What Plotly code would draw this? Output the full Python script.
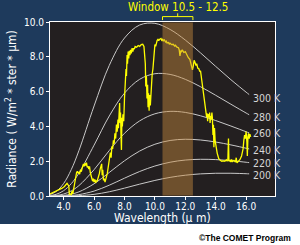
import plotly.graph_objects as go

# ---------------- data ----------------
planck_wl = [3, 3.5, 4, 4.5, 5, 6, 7, 8, 9, 10, 11, 12, 13, 14, 15, 16, 16.2]
temps = ["300 K", "280 K", "260 K", "240 K", "220 K", "200 K"]
planck_300 = [0.056, 0.254, 0.722, 1.518, 2.602, 5.176, 7.508, 9.078, 9.828, 9.923, 9.572, 8.962, 8.225, 7.447, 6.684, 5.968, 5.831]
planck_280 = [0.018, 0.095, 0.307, 0.709, 1.312, 2.924, 4.598, 5.911, 6.708, 7.028, 6.987, 6.705, 6.280, 5.787, 5.274, 4.769, 4.671]
planck_260 = [0.005, 0.031, 0.114, 0.295, 0.595, 1.513, 2.614, 3.604, 4.318, 4.724, 4.864, 4.804, 4.610, 4.336, 4.021, 3.692, 3.626]
planck_240 = [0.001, 0.008, 0.036, 0.106, 0.237, 0.701, 1.353, 2.024, 2.585, 2.975, 3.191, 3.261, 3.219, 3.102, 2.937, 2.745, 2.704]
planck_220 = [0.000, 0.002, 0.009, 0.032, 0.080, 0.283, 0.621, 1.024, 1.410, 1.723, 1.941, 2.066, 2.110, 2.092, 2.030, 1.939, 1.918]
planck_200 = [0.000, 0.000, 0.002, 0.007, 0.022, 0.095, 0.244, 0.452, 0.682, 0.895, 1.070, 1.195, 1.272, 1.307, 1.307, 1.281, 1.273]
label_x = 16.35
label_y = [5.62, 4.55, 3.62, 2.62, 1.87, 1.23]

spec_wl = [3.1, 3.3, 3.5, 3.7, 3.9, 4.05, 4.15, 4.22, 4.3, 4.34, 4.37, 4.42, 4.5, 4.55, 4.6, 4.65,
           4.7, 4.75, 4.8, 4.85, 4.9, 4.95, 5.0, 5.05, 5.1, 5.16, 5.2, 5.25, 5.3, 5.35, 5.4, 5.45,
           5.5, 5.55, 5.6, 5.65, 5.7, 5.75, 5.8, 5.85, 5.9, 5.95, 6.0, 6.05, 6.1, 6.15, 6.2, 6.25,
           6.3, 6.35, 6.4, 6.45, 6.5, 6.53, 6.57, 6.62, 6.67, 6.72, 6.77, 6.82, 6.87, 6.92, 6.97,
           7.02, 7.07, 7.12, 7.17, 7.22, 7.27, 7.32, 7.37, 7.42, 7.47, 7.52, 7.57, 7.6, 7.64, 7.68,
           7.71, 7.74, 7.77, 7.8, 7.83, 7.86, 7.9, 7.95, 8.0, 8.05, 8.1, 8.13, 8.17, 8.2, 8.24, 8.28,
           8.32, 8.36, 8.4, 8.45, 8.5, 8.55, 8.6, 8.65, 8.7, 8.8, 8.9, 9.0, 9.1, 9.2, 9.28, 9.33,
           9.37, 9.4, 9.44, 9.48, 9.52, 9.55, 9.58, 9.62, 9.65, 9.7, 9.74, 9.78, 9.82, 9.87, 9.92,
           9.96, 10.0, 10.05, 10.1, 10.15, 10.2, 10.25, 10.3, 10.4, 10.45, 10.5, 10.55, 10.6, 10.7,
           10.75, 10.8, 10.9, 10.95, 11.0, 11.1, 11.2, 11.3, 11.35, 11.45, 11.55, 11.6, 11.65, 11.7,
           11.75, 11.8, 11.9, 12.0, 12.05, 12.1, 12.2, 12.3, 12.4, 12.47, 12.52, 12.58, 12.63, 12.7,
           12.75, 12.82, 12.9, 12.95, 13.0, 13.05, 13.1, 13.15, 13.2, 13.25, 13.3, 13.35, 13.4,
           13.43, 13.47, 13.5, 13.55, 13.6, 13.63, 13.67, 13.7, 13.75, 13.78, 13.82, 13.85, 13.88,
           13.92, 13.96, 14.0, 14.05, 14.1, 14.15, 14.2, 14.3, 14.4, 14.5, 14.6, 14.7, 14.75, 14.8,
           14.84, 14.87, 14.95, 15.0, 15.05, 15.1, 15.2, 15.3, 15.35, 15.4, 15.5, 15.6, 15.7, 15.75,
           15.8, 15.85, 15.9, 15.95, 16.0, 16.05, 16.08, 16.12, 16.16, 16.2, 16.25, 16.3]
spec_val = [0.12, 0.2, 0.3, 0.38, 0.45, 0.55, 0.65, 0.73, 0.62, 0.58, 0.1, 0.12, 0.08, 0.3, 0.12, 0.35,
            0.65, 1.0, 1.25, 1.35, 1.42, 1.3, 1.38, 1.25, 1.5, 1.4, 1.55, 1.78, 1.85, 1.7, 1.88, 1.75,
            1.92, 1.65, 1.72, 1.55, 1.7, 1.35, 1.2, 1.05, 0.85, 1.0, 0.8, 0.95, 0.75, 0.9, 0.85, 1.0,
            1.1, 1.3, 1.55, 1.75, 1.85, 1.2, 1.5, 0.9, 1.0, 0.8, 0.95, 1.0, 1.3, 1.6, 1.9,
            2.3, 2.5, 2.2, 2.85, 2.7, 3.2, 3.0, 3.6, 3.3, 4.1, 3.7, 4.4, 3.9, 4.6, 5.35,
            4.2, 4.8, 3.5, 2.65, 4.5, 4.0, 4.7, 4.3, 5.6, 6.6, 7.3, 6.9, 8.1, 7.6, 8.3, 7.9,
            8.35, 8.1, 8.4, 8.2, 8.5, 8.3, 8.5, 8.45, 8.6, 8.55, 8.65, 8.6, 8.7, 8.72, 8.6, 8.2,
            7.6, 6.3, 6.9, 5.6, 6.4, 5.1, 5.9, 4.9, 5.8, 5.2, 6.2, 6.3, 7.0, 7.3, 7.9,
            8.4, 8.7, 8.6, 8.9, 8.95, 9.0, 8.92, 9.0, 9.05, 8.95, 9.0, 8.9, 9.0, 8.85,
            8.9, 8.8, 8.82, 8.72, 8.78, 8.7, 8.72, 8.62, 8.66, 8.55, 8.52, 8.4, 8.05, 8.35,
            8.3, 8.4, 8.25, 8.3, 8.2, 8.15, 7.95, 7.85, 7.55, 7.25, 7.45, 7.8, 7.7, 7.5,
            7.6, 7.35, 7.3, 7.15, 7.2, 6.9, 6.55, 6.3, 6.0, 5.55, 5.2, 4.85, 4.55,
            4.75, 4.3, 4.7, 4.5, 4.8, 4.2, 4.6, 4.4, 4.8, 4.5, 3.5, 4.1, 2.8,
            3.9, 3.2, 2.9, 2.65, 2.45, 2.3, 2.15, 2.05, 2.0, 2.02, 2.0, 2.08, 2.0, 2.1,
            3.3, 2.0, 2.05, 1.95, 2.1, 1.98, 2.05, 1.95, 2.2, 1.9, 2.0, 2.1, 2.3, 2.5,
            2.7, 3.2, 3.5, 3.3, 3.7, 3.1, 2.3, 3.4, 3.6, 3.3, 3.55, 3.4]

window_lo, window_hi = 10.5, 12.5
x_ticks = [4, 6, 8, 10, 12, 14, 16]
y_ticks = [0, 2, 4, 6, 8, 10]

# ---------------- figure ----------------
BLUE = "#1e3a5c"
DARK = "#231f20"
GRAY = "#c8c8c8"
NARROW = "Liberation Sans Narrow, Arial Narrow, DejaVu Sans Condensed, Arial, sans-serif"

fig = go.Figure()
for vals in [planck_300, planck_280, planck_260, planck_240, planck_220, planck_200]:
    fig.add_trace(go.Scatter(x=planck_wl, y=vals, mode="lines",
                             line=dict(color=GRAY, width=1, shape="spline"),
                             showlegend=False, hoverinfo="skip"))
fig.add_trace(go.Scatter(x=spec_wl, y=spec_val, mode="lines",
                         line=dict(color="#ffff00", width=1.3),
                         showlegend=False, hoverinfo="skip"))

for t, yv in zip(temps, label_y):
    fig.add_annotation(x=label_x, y=yv, xref="x", yref="y", text=t, showarrow=False,
                       xanchor="left", yanchor="middle",
                       font=dict(family=NARROW, size=10.5, color="#d6d6d6"))

# window band
fig.add_shape(type="rect", xref="x", yref="paper", x0=window_lo, x1=window_hi, y0=0.003, y1=0.997,
              fillcolor="rgba(202,140,61,0.45)", line=dict(width=0), layer="above")
# bracket
xm = (window_lo + window_hi) / 2
fig.add_shape(type="path", xref="x", yref="paper",
              path=f"M {window_lo},1.011 L {window_lo},1.031 L {window_hi},1.031 L {window_hi},1.011",
              line=dict(color="#ffff00", width=1))
fig.add_shape(type="line", xref="x", yref="paper", x0=xm, x1=xm, y0=1.031, y1=1.05,
              line=dict(color="#ffff00", width=1))
fig.add_annotation(x=xm, y=1.085, xref="x", yref="paper", text=f"Window {window_lo} - {window_hi}",
                   showarrow=False, xanchor="center", yanchor="middle",
                   font=dict(family=NARROW, size=11.5, color="#ffff00"))

# white strip at bottom
fig.add_shape(type="rect", xref="paper", yref="paper", x0=-0.5, x1=1.5, y0=-0.6, y1=-0.161,
              fillcolor="white", line=dict(width=0), layer="below")
fig.add_annotation(x=1.08, y=-0.241, xref="paper", yref="paper", text="©The COMET Program",
                   showarrow=False, xanchor="right", yanchor="middle",
                   font=dict(family="Arial, Liberation Sans, sans-serif", size=8.5, color="black",
                             weight="bold"))
# x axis title (placed just above the white strip)
fig.add_annotation(x=0.5, y=-0.124, xref="paper", yref="paper", text="Wavelength (µ m)",
                   showarrow=False, xanchor="center", yanchor="middle",
                   font=dict(family=NARROW, size=12, color="white"))

axis_common = dict(showgrid=False, zeroline=False, showline=True, linecolor="white", linewidth=1,
                   mirror=True, ticks="outside", ticklen=3, tickcolor="white",
                   tickfont=dict(family=NARROW, size=10, color="white"), tickformat=".1f")
fig.update_xaxes(range=[3.1, 17.9], tickvals=x_ticks, ticklabelstandoff=-2, **axis_common)
fig.update_yaxes(range=[0, 10], tickvals=y_ticks,
                 title=dict(text="Radiance ( W/m<sup>2</sup> * ster * µm)",
                            font=dict(family=NARROW, size=12, color="white"), standoff=4),
                 **axis_common)

fig.update_layout(width=300, height=245, margin=dict(l=41, r=25, t=22, b=49),
                  paper_bgcolor=BLUE, plot_bgcolor=DARK)

fig.write_html("out.html")
